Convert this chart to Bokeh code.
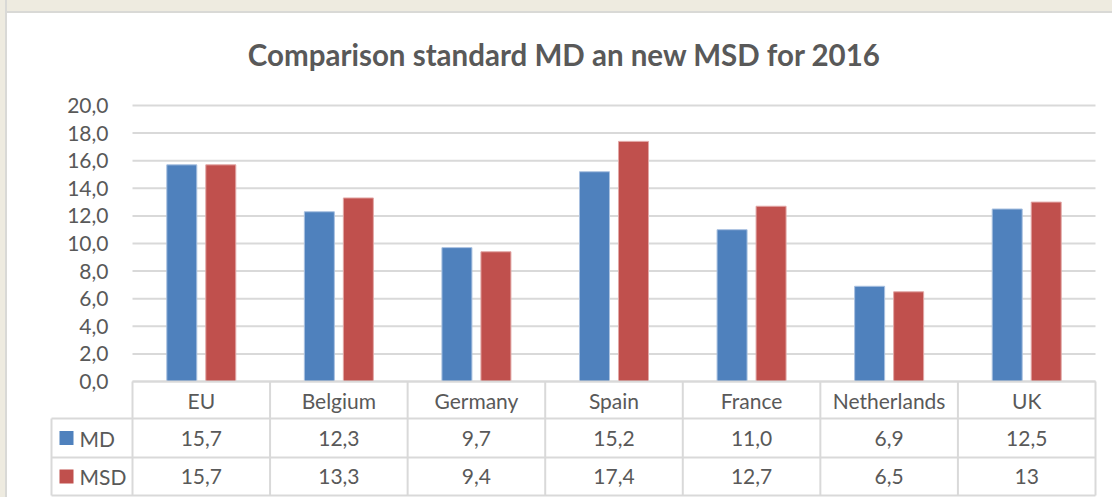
from bokeh.plotting import figure
from bokeh.models import Range1d, ColumnDataSource, Div
from bokeh.layouts import column, row
from bokeh.core.properties import value
from bokeh.embed import file_html
from bokeh.resources import INLINE

# ---- data ----
categories = ["EU", "Belgium", "Germany", "Spain", "France", "Netherlands", "UK"]
md_values = [15.7, 12.3, 9.7, 15.2, 11.0, 6.9, 12.5]
msd_values = [15.7, 13.3, 9.4, 17.4, 12.7, 6.5, 13]
series_names = ["MD", "MSD"]
y_ticks = [0, 2, 4, 6, 8, 10, 12, 14, 16, 18, 20]
title_text = "Comparison standard MD an new MSD for 2016"

BLUE = "#4f81bd"
RED = "#c0504d"
TXT = "#595959"
GRID = "#d9d9d9"
FONT = "Lato"
FS = "21px"
BEIGE = "#eeebe0"
EDGE = "#d9d9d6"


def fmt(v):
    if isinstance(v, float):
        return f"{v:.1f}".replace(".", ",")
    return str(v).replace(".", ",")


# ---- layout constants (pixels) ----
LEFT_STRIP = 7
TOP_STRIP = 13
W, H = 1112 - LEFT_STRIP, 484
LEFT_BORDER = 9
TOP_BORDER = 80
PX_X = 137.57           # pixels per category
PX_Y = 13.8             # pixels per y unit
X0 = 132 - LEFT_STRIP   # canvas x of category 0 start
Y0_CANVAS = 381 - TOP_STRIP

xmin = -(X0 - LEFT_BORDER) / PX_X
xmax = (W - X0) / PX_X
ymax = (Y0_CANVAS - TOP_BORDER) / PX_Y
ymin = -(H - Y0_CANVAS) / PX_Y

# table row boundaries (below the value axis), in y units
row_lines = [0, -37 / PX_Y, -76 / PX_Y, -114 / PX_Y]
row_mid = [(row_lines[k] + row_lines[k + 1]) / 2 for k in range(3)]
legend_left = -(132 - 51) / PX_X
n = len(categories)

p = figure(width=W, height=H, output_backend="svg", toolbar_location=None,
           x_range=Range1d(xmin, xmax), y_range=Range1d(ymin, ymax),
           min_border_left=LEFT_BORDER, min_border_right=0, min_border_bottom=0,
           min_border_top=TOP_BORDER, margin=0)
p.xaxis.visible = False
p.yaxis.visible = False
p.xgrid.visible = False
p.ygrid.visible = False
p.outline_line_color = None
p.background_fill_color = "white"
p.border_fill_color = "white"

p.title.text = title_text
p.title.align = "center"
p.title.text_font = FONT
p.title.text_font_style = "bold"
p.title.text_font_size = "29.5px"
p.title.text_color = TXT
p.title.standoff = 43

# gridlines
p.segment(x0=[0] * len(y_ticks), x1=[n] * len(y_ticks), y0=y_ticks, y1=y_ticks,
          line_color=GRID, line_width=2)

# y tick labels
p.text(x=[-24 / PX_X] * len(y_ticks), y=y_ticks, text=[fmt(float(t)) for t in y_ticks],
       text_align="right", text_baseline="middle", text_font=value(FONT),
       text_font_size=value(FS), text_color=TXT)

# bars
idx = list(range(n))
bw = 30 / PX_X
off = 19.5 / PX_X
src = ColumnDataSource(dict(
    xm=[i + 0.5 - off for i in idx], xs=[i + 0.5 + off for i in idx],
    md=md_values, msd=msd_values))
p.vbar(x="xm", top="md", bottom=0, width=bw, source=src, fill_color=BLUE,
       line_color="#a9c1e0", line_width=1)
p.vbar(x="xs", top="msd", bottom=0, width=bw, source=src, fill_color=RED,
       line_color="#e2a7a6", line_width=1)

# data table borders
hx0 = [0, legend_left, legend_left, legend_left]
p.segment(x0=hx0, x1=[n] * 4, y0=row_lines, y1=row_lines, line_color=GRID, line_width=2)
vx = list(range(n + 1))
p.segment(x0=vx, x1=vx, y0=[0] * (n + 1), y1=[row_lines[3]] * (n + 1),
          line_color=GRID, line_width=2)
p.segment(x0=[legend_left], x1=[legend_left], y0=[row_lines[1]], y1=[row_lines[3]],
          line_color=GRID, line_width=2)

# table text
cx = [i + 0.5 for i in idx]
for row_y, labels in [(row_mid[0], categories),
                      (row_mid[1], [fmt(v) for v in md_values]),
                      (row_mid[2], [fmt(v) for v in msd_values])]:
    p.text(x=cx, y=[row_y] * n, text=labels, text_align="center",
           text_baseline="middle", text_font=value(FONT), text_font_size=value(FS),
           text_color=TXT)

# legend keys in table
ly = [row_mid[1], row_mid[2]]
p.scatter(x=[-(132 - 66) / PX_X] * 2, y=ly, marker="square", size=14,
          fill_color=[BLUE, RED], line_color=None)
p.text(x=[-(132 - 79) / PX_X] * 2, y=ly, text=series_names, text_align="left",
       text_baseline="middle", text_font=value(FONT), text_font_size=value(FS),
       text_color=TXT)

top = Div(width=W, height=TOP_STRIP, margin=0,
          styles={"background": f"linear-gradient(to bottom, {BEIGE} 0px, {BEIGE} 11px, "
                                f"{EDGE} 11px, {EDGE} 13px)"})
left = Div(width=LEFT_STRIP, height=H + TOP_STRIP, margin=0,
           styles={"background": f"linear-gradient(to right, {BEIGE} 0px, {BEIGE} 5px, "
                                 f"{EDGE} 5px, {EDGE} 7px)"})
layout = row(left, column(top, p, spacing=0, margin=0), spacing=0, margin=0)

open("out.html", "w").write(file_html(layout, INLINE))
